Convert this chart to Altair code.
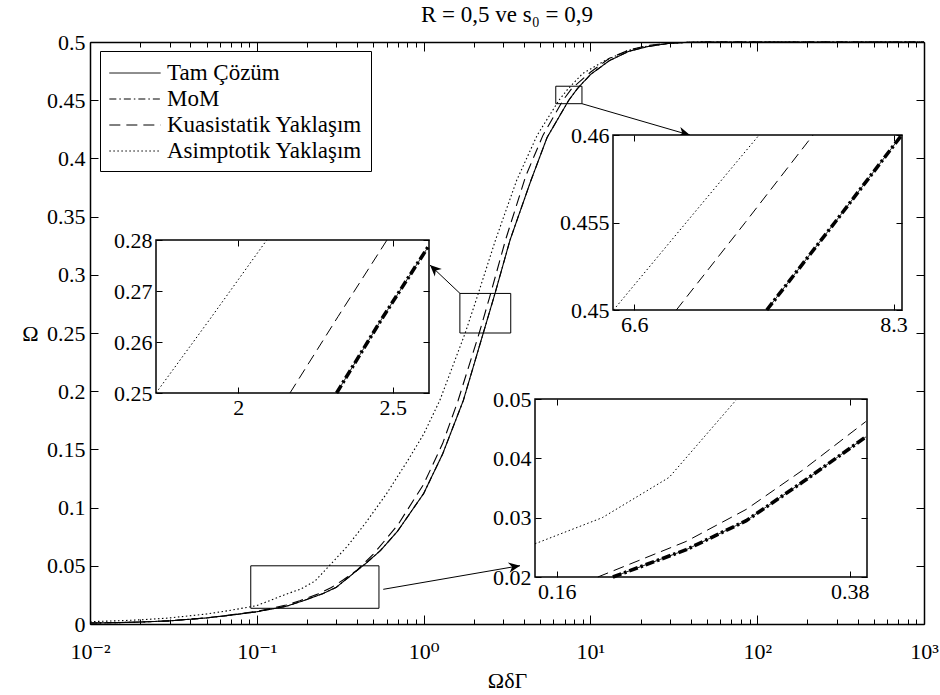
import altair as alt
import pandas as pd

FONT = "Liberation Serif, Tinos, Times New Roman, DejaVu Serif, serif"
FS = 22

SERIES = ["Tam Çözüm", "MoM", "Kuasistatik Yaklaşım", "Asimptotik Yaklaşım"]

# ---------------- main curves (x = ΩδΓ, y = Ω) ----------------
tam_x = [0.01, 0.015, 0.02, 0.03, 0.05, 0.07, 0.1, 0.15, 0.19, 0.25, 0.3, 0.38, 0.45, 0.55, 0.7,
         1.0, 1.3, 1.73, 2.28, 2.68, 3.3, 4.4, 5.5, 7.42, 8.36, 10, 13, 17, 22, 30, 40, 60, 100, 1000]
tam_y = [0.0008, 0.0012, 0.0017, 0.0027, 0.0052, 0.0076, 0.0105, 0.0152, 0.02, 0.0262, 0.0316, 0.0436,
         0.052, 0.063, 0.08, 0.112, 0.146, 0.192, 0.25, 0.284, 0.33, 0.381, 0.418, 0.45, 0.46, 0.472,
         0.484, 0.492, 0.496, 0.499, 0.4998, 0.5, 0.5, 0.5]
mom_x = [0.01, 0.015, 0.02, 0.03, 0.05, 0.07, 0.1, 0.15, 0.19, 0.25, 0.3, 0.38, 0.45, 0.55, 0.7,
         1.0, 1.3, 1.73, 2.28, 2.68, 3.3, 4.4, 5.5, 7.42, 8.36, 10, 13, 17, 22, 30, 40, 60, 100, 1000]
mom_y = [0.0008, 0.0012, 0.0017, 0.0027, 0.0052, 0.0076, 0.0105, 0.0152, 0.02, 0.0262, 0.0316, 0.0436,
         0.052, 0.063, 0.08, 0.112, 0.146, 0.192, 0.25, 0.284, 0.33, 0.381, 0.418, 0.45, 0.46, 0.472,
         0.484, 0.492, 0.496, 0.499, 0.4998, 0.5, 0.5, 0.5]
kua_x = [0.01, 0.015, 0.02, 0.03, 0.05, 0.07, 0.1, 0.15, 0.181, 0.2345, 0.28, 0.3307, 0.3986, 0.5, 0.7,
         1.0, 1.3, 1.61, 2.155, 2.479, 3.1, 4.1, 5.2, 6.85, 7.73, 10, 13, 17, 22, 30, 40, 60, 100, 1000]
kua_y = [0.0008, 0.0012, 0.0017, 0.0027, 0.0053, 0.0078, 0.0108, 0.0163, 0.02, 0.026, 0.0314, 0.038,
         0.0462, 0.06, 0.085, 0.12, 0.155, 0.192, 0.25, 0.28, 0.33, 0.385, 0.42, 0.45, 0.46, 0.474,
         0.486, 0.493, 0.497, 0.499, 0.4998, 0.5, 0.5, 0.5]
asi_x = [0.01, 0.015, 0.02, 0.03, 0.05, 0.07, 0.1, 0.15, 0.183, 0.223, 0.272, 0.35, 0.45, 0.6, 0.8,
         1.0, 1.25, 1.776, 2.084, 2.7, 3.61, 4.8, 6.48, 7.37, 9, 12.4, 17, 22, 30, 40, 60, 100, 1000]
asi_y = [0.002, 0.0028, 0.0036, 0.0052, 0.0086, 0.0118, 0.0158, 0.0256, 0.03, 0.0368, 0.05, 0.067,
         0.087, 0.112, 0.14, 0.163, 0.192, 0.25, 0.28, 0.33, 0.381, 0.42, 0.45, 0.46, 0.473, 0.4845,
         0.493, 0.4965, 0.499, 0.4998, 0.5, 0.5, 0.5]

main_x_ticks = [0.01, 0.1, 1, 10, 100, 1000]
main_x_minor = [k * 10.0 ** e for e in range(-2, 3) for k in range(2, 10)]
main_y_ticks = [0, 0.05, 0.1, 0.15, 0.2, 0.25, 0.3, 0.35, 0.4, 0.45, 0.5]

# zoom boxes drawn in the main axes
box_x1 = [1.65, 6.2, 0.092]
box_x2 = [3.33, 8.9, 0.54]
box_y1 = [0.25, 0.447, 0.0135]
box_y2 = [0.284, 0.462, 0.05]

# arrows (main-axes coordinates)
arr_x1 = [1.653, 8.9, 0.573]
arr_y1 = [0.284, 0.447, 0.0298]
arr_x2 = [1.092, 39.5, 3.784]
arr_y2 = [0.3084, 0.42, 0.0501]
arr_angle = [223, 16, 350.5]

# ---------------- insets ----------------
in1_xdom = [1.776, 2.634]; in1_ydom = [0.25, 0.28]
in1_xticks = [2, 2.5]; in1_yticks = [0.25, 0.26, 0.27, 0.28]
in1_tam_x = [2.305, 2.46, 2.63]; in1_tam_y = [0.25, 0.2645, 0.2786]
in1_kua_x = [2.155, 2.31, 2.479]; in1_kua_y = [0.25, 0.265, 0.28]
in1_asi_x = [1.776, 1.92, 2.084]; in1_asi_y = [0.25, 0.2645, 0.28]

in2_xdom = [6.477, 8.362]; in2_ydom = [0.45, 0.46]
in2_xticks = [6.6, 8.3]; in2_yticks = [0.45, 0.455, 0.46]
in2_tam_x = [7.42, 7.88, 8.36]; in2_tam_y = [0.45, 0.455, 0.46]
in2_kua_x = [6.85, 7.28, 7.73]; in2_kua_y = [0.45, 0.455, 0.46]
in2_asi_x = [6.48, 6.91, 7.37]; in2_asi_y = [0.45, 0.455, 0.46]

in3_xdom = [0.15, 0.40]; in3_ydom = [0.02, 0.05]
in3_xticks = [0.16, 0.38]; in3_yticks = [0.02, 0.03, 0.04, 0.05]
in3_tam_x = [0.1888, 0.2345, 0.28, 0.3307, 0.3986]; in3_tam_y = [0.02, 0.0246, 0.0295, 0.036, 0.0436]
in3_kua_x = [0.1806, 0.2345, 0.28, 0.3307, 0.3986]; in3_kua_y = [0.02, 0.026, 0.0314, 0.038, 0.0462]
in3_asi_x = [0.15, 0.183, 0.223, 0.2716]; in3_asi_y = [0.0256, 0.03, 0.0368, 0.0498]

# ---------------- layout / styles ----------------
W, H = 834, 582
OX, OY = 90, 42
DASHES = [[1, 0], [7, 3, 1.5, 3], [11, 6], [1.5, 2.5]]
dash_scale = alt.Scale(domain=SERIES, range=DASHES)


def long_df(parts):
    rows = []
    for name, xs, ys in parts:
        for i, (a, b) in enumerate(zip(xs, ys)):
            rows.append({"series": name, "x": a, "y": b, "i": i})
    return pd.DataFrame(rows)


main_df = long_df([(SERIES[0], tam_x, tam_y), (SERIES[1], mom_x, mom_y),
                   (SERIES[2], kua_x, kua_y), (SERIES[3], asi_x, asi_y)])
helper_df = pd.DataFrame({"x": [main_x_ticks[0], main_x_ticks[-1]], "y": [0, 0.5]})


def mx():
    return alt.Scale(type="log", domain=[0.01, 1000], range=[0, W], nice=False)


def my():
    return alt.Scale(type="linear", domain=[0, 0.5], range=[H, 0], nice=False, zero=False)


def tick_axis(orient, offset, values, size, domain=False):
    return alt.Axis(orient=orient, offset=offset, values=values, labels=False, ticks=True,
                    tickSize=size, tickColor="black", tickWidth=1, domain=domain,
                    domainColor="black", domainWidth=1.5, grid=False, title=None, zindex=1)


legend = alt.Legend(title=None, orient="none", legendX=10, legendY=9, direction="vertical",
                    strokeColor="black", fillColor="white", padding=8, cornerRadius=0,
                    symbolType="M-1.9,0H1.9", symbolSize=729, symbolStrokeWidth=1,
                    symbolStrokeColor="black", symbolOffset=13, labelOffset=18,
                    labelFont=FONT, labelFontSize=23, labelColor="black", rowPadding=0,
                    labelLimit=400)

xlabel_expr = "'10' + ['⁻²','⁻¹','⁰','¹','²','³'][round(log(datum.value)/LN10)+2]"

main_lines = alt.Chart(main_df).mark_line(color="black", strokeWidth=1.1).encode(
    x=alt.X("x:Q", scale=mx(), axis=alt.Axis(
        orient="bottom", values=main_x_ticks, labelExpr=xlabel_expr, ticks=False, tickSize=0,
        domain=True, domainColor="black", domainWidth=1.5, labelFont=FONT, labelFontSize=FS,
        labelColor="black", labelPadding=17, labelFlush=False, labelOverlap=False, grid=False,
        title="ΩδΓ", titleFont=FONT, titleFontSize=FS, titleFontWeight="normal", titleColor="black",
        titleX=W / 2, titleY=56, titleAlign="center", titleBaseline="middle", zindex=1)),
    y=alt.Y("y:Q", scale=my(), axis=alt.Axis(
        orient="left", values=main_y_ticks, format="~g", ticks=False, tickSize=0,
        domain=True, domainColor="black", domainWidth=1.5, labelFont=FONT, labelFontSize=FS,
        labelColor="black", labelPadding=5, labelFlush=False, labelOverlap=False, grid=False,
        title="Ω", titleFont=FONT, titleFontSize=FS, titleFontWeight="normal", titleColor="black",
        titleAngle=0, titleX=-60, titleY=H / 2, titleAlign="center", titleBaseline="middle",
        zindex=1)),
    strokeDash=alt.StrokeDash("series:N", scale=dash_scale, legend=legend),
    order="i:Q",
)

helpers = [
    alt.Chart(helper_df).mark_point(opacity=0).encode(
        x=alt.X("x:Q", scale=mx(), axis=tick_axis("top", -H, main_x_ticks, 9)),
        y=alt.Y("y:Q", scale=my(), axis=tick_axis("right", -W, main_y_ticks, 8))),
    alt.Chart(helper_df).mark_point(opacity=0).encode(
        x=alt.X("x:Q", scale=mx(), axis=tick_axis("bottom", -H, main_x_ticks, 9, True)),
        y=alt.Y("y:Q", scale=my(), axis=tick_axis("left", -W, main_y_ticks, 8, True))),
    alt.Chart(helper_df).mark_point(opacity=0).encode(
        x=alt.X("x:Q", scale=mx(), axis=tick_axis("top", -H, main_x_minor, 5)),
        y=alt.Y("y:Q", scale=my(), axis=None)),
    alt.Chart(helper_df).mark_point(opacity=0).encode(
        x=alt.X("x:Q", scale=mx(), axis=tick_axis("bottom", -H, main_x_minor, 5)),
        y=alt.Y("y:Q", scale=my(), axis=None)),
]

box_df = pd.DataFrame({"x1": box_x1, "x2": box_x2, "y1": box_y1, "y2": box_y2})
boxes = alt.Chart(box_df).mark_rect(filled=False, stroke="black", strokeWidth=1).encode(
    x=alt.X("x1:Q", scale=mx(), axis=None), x2="x2:Q",
    y=alt.Y("y1:Q", scale=my(), axis=None), y2="y2:Q")

arr_df = pd.DataFrame({"x1": arr_x1, "y1": arr_y1, "x2": arr_x2, "y2": arr_y2, "a": arr_angle})
arrow_lines = alt.Chart(arr_df).mark_rule(color="black", strokeWidth=1).encode(
    x=alt.X("x1:Q", scale=mx(), axis=None), x2="x2:Q",
    y=alt.Y("y1:Q", scale=my(), axis=None), y2="y2:Q")
arrow_heads = alt.Chart(arr_df).mark_point(
    shape="M0,0 L-1,-0.45 L-0.7,0 L-1,0.45 Z", filled=True, color="black", size=520, opacity=1
).encode(
    x=alt.X("x2:Q", scale=mx(), axis=None),
    y=alt.Y("y2:Q", scale=my(), axis=None),
    angle=alt.Angle("a:Q", scale=None))


def inset(px, xdom, ydom, xticks, yticks, tam, kua, asi):
    L, R, T, B = px[0] - OX, px[1] - OX, px[2] - OY, px[3] - OY

    def sx():
        return alt.Scale(type="log", domain=xdom, range=[L, R], nice=False)

    def sy():
        return alt.Scale(type="linear", domain=ydom, range=[B, T], nice=False, zero=False)

    frame_df = pd.DataFrame({"x1": [xdom[0]], "x2": [xdom[1]], "y1": [ydom[0]], "y2": [ydom[1]]})
    frame = alt.Chart(frame_df).mark_rect(fill="white", stroke="black", strokeWidth=1.5).encode(
        x=alt.X("x1:Q", scale=sx(), axis=alt.Axis(
            orient="bottom", offset=B - H, values=xticks, format="~g", ticks=False, tickSize=0,
            domain=False, labelFont=FONT, labelFontSize=FS, labelColor="black", labelPadding=4,
            labelFlush=False, labelOverlap=False, grid=False, title=None, zindex=1)),
        x2="x2:Q",
        y=alt.Y("y1:Q", scale=sy(), axis=alt.Axis(
            orient="left", offset=-L, values=yticks, format="~g", ticks=False, tickSize=0,
            domain=False, labelFont=FONT, labelFontSize=FS, labelColor="black", labelPadding=4,
            labelFlush=False, labelOverlap=False, grid=False, title=None, zindex=1)),
        y2="y2:Q")
    thin_df = long_df([(SERIES[0], tam[0], tam[1]), (SERIES[2], kua[0], kua[1]),
                       (SERIES[3], asi[0], asi[1])])
    thin = alt.Chart(thin_df).mark_line(color="black", strokeWidth=1).encode(
        x=alt.X("x:Q", scale=sx(), axis=tick_axis("top", -B, xticks, 6)),
        y=alt.Y("y:Q", scale=sy(), axis=tick_axis("right", L - W, yticks, 6)),
        strokeDash=alt.StrokeDash("series:N", scale=dash_scale),
        order="i:Q")
    mom_df = long_df([(SERIES[1], tam[0], tam[1])])
    thick = alt.Chart(mom_df).mark_line(color="black", strokeWidth=3.6, strokeDash=[9, 3, 2.5, 3],
                                        strokeCap="butt").encode(
        x=alt.X("x:Q", scale=sx(), axis=tick_axis("bottom", T - H, xticks, 6)),
        y=alt.Y("y:Q", scale=sy(), axis=tick_axis("left", -R, yticks, 6)),
        order="i:Q")
    return [frame, thin, thick]


ins1 = inset((156, 429, 240, 393), in1_xdom, in1_ydom, in1_xticks, in1_yticks,
             (in1_tam_x, in1_tam_y), (in1_kua_x, in1_kua_y), (in1_asi_x, in1_asi_y))
ins2 = inset((613, 902, 135, 310), in2_xdom, in2_ydom, in2_xticks, in2_yticks,
             (in2_tam_x, in2_tam_y), (in2_kua_x, in2_kua_y), (in2_asi_x, in2_asi_y))
ins3 = inset((535, 867, 399, 577), in3_xdom, in3_ydom, in3_xticks, in3_yticks,
             (in3_tam_x, in3_tam_y), (in3_kua_x, in3_kua_y), (in3_asi_x, in3_asi_y))

layers = [main_lines] + helpers + [boxes, arrow_lines, arrow_heads] + ins1 + ins2 + ins3

chart = alt.layer(*layers).resolve_scale(x="independent", y="independent").properties(
    width=W, height=H,
    title=alt.Title("R = 0,5 ve s₀ = 0,9", font=FONT, fontSize=23, fontWeight="normal",
                    color="black", anchor="middle", frame="group", offset=4),
    padding={"left": OX, "top": OY, "right": 940 - OX - W, "bottom": 695 - OY - H},
    autosize=alt.AutoSizeParams(type="none"),
).configure_view(stroke=None).configure(background="white", font=FONT)

chart.save("out.html", embed_options={"renderer": "svg", "actions": False})
